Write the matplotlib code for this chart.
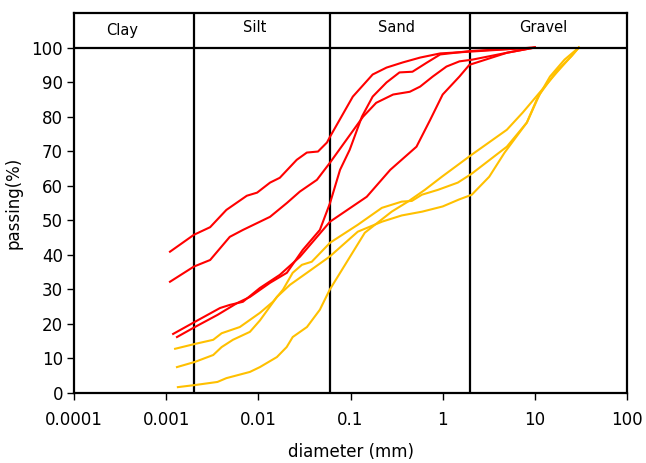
import matplotlib
matplotlib.use("Agg")
import matplotlib.pyplot as plt

# ---- data (diameter in mm, percent passing) ----
r1_d = [0.0011, 0.002, 0.003, 0.0045, 0.0075, 0.0097, 0.0134, 0.0171, 0.0261, 0.0336, 0.0444, 0.0555, 0.06,
        0.106, 0.174, 0.246, 0.37, 0.57, 0.94, 1.95, 5.0, 10.0]
r1_p = [40.9, 45.8, 48.0, 53.0, 57.1, 58.0, 60.9, 62.3, 67.5, 69.6, 69.9, 72.5, 74.2,
        85.8, 92.2, 94.2, 95.7, 97.1, 98.3, 98.8, 99.5, 100.0]

r2_d = [0.0011, 0.002, 0.003, 0.0049, 0.0068, 0.0134, 0.0204, 0.0282, 0.0432, 0.06,
        0.137, 0.19, 0.29, 0.44, 0.57, 0.78, 1.1, 1.52, 2.1, 5.0, 10.0]
r2_p = [32.2, 36.6, 38.5, 45.2, 47.2, 51.0, 55.0, 58.3, 61.7, 66.7,
        80.0, 84.0, 86.4, 87.2, 88.7, 91.6, 94.5, 96.0, 96.5, 98.5, 100.0]

r3_d = [0.00131, 0.00205, 0.0036, 0.00586, 0.0081, 0.0134, 0.0204, 0.0303, 0.0465, 0.06,
        0.077, 0.098, 0.133, 0.174, 0.246, 0.34, 0.47, 0.67, 0.94, 2.0, 10.0]
r3_p = [16.2, 19.1, 22.6, 26.0, 27.8, 31.9, 34.8, 41.4, 47.2, 55.0,
        64.6, 70.4, 80.0, 85.8, 89.9, 92.8, 93.0, 95.6, 98.0, 99.0, 100.0]

r4_d = [0.00119, 0.00205, 0.00384, 0.0049, 0.0068, 0.0104, 0.0171, 0.0282, 0.06,
        0.15, 0.27, 0.52, 0.73, 1.0, 1.52, 1.95, 5.0, 10.0]
r4_p = [17.1, 20.6, 24.6, 25.5, 26.4, 30.4, 34.2, 39.4, 49.6,
        56.8, 64.6, 71.3, 79.0, 86.4, 91.6, 95.0, 98.5, 100.0]

y1_d = [0.00125, 0.00205, 0.00324, 0.004, 0.0063, 0.0104, 0.0144, 0.0185, 0.0236, 0.0297, 0.038, 0.06,
        0.12, 0.219, 0.36, 0.463, 0.595, 0.887, 1.46, 2.07, 4.97, 8.2, 11.3, 17.0, 25.0, 30.0]
y1_p = [12.8, 14.2, 15.4, 17.3, 19.1, 23.2, 26.4, 29.9, 34.8, 37.1, 38.0, 43.5,
        48.7, 53.6, 55.4, 55.6, 57.4, 58.8, 60.9, 63.5, 71.3, 78.3, 86.5, 93.0, 97.5, 100.0]

y2_d = [0.00131, 0.00205, 0.00324, 0.004, 0.0053, 0.0081, 0.0104, 0.0159, 0.022, 0.0337, 0.0595,
        0.12, 0.22, 0.36, 0.6, 1.0, 1.5, 2.07, 3.2, 4.7, 8.2, 10.5, 14.6, 21.0, 30.0]
y2_p = [7.5, 9.0, 11.0, 13.3, 15.4, 17.7, 21.0, 27.8, 31.3, 34.8, 39.5,
        46.7, 49.6, 51.4, 52.5, 54.0, 56.0, 57.4, 62.6, 69.6, 78.3, 85.0, 91.6, 96.5, 100.0]

y3_d = [0.00134, 0.00205, 0.0036, 0.0045, 0.0081, 0.0104, 0.0159, 0.0203, 0.0236, 0.0337, 0.0465, 0.0595,
        0.143, 0.28, 0.42, 0.64, 0.98, 2.07, 4.97, 7.4, 11.3, 17.3, 25.8, 30.0]
y3_p = [1.7, 2.3, 3.2, 4.3, 6.1, 7.5, 10.4, 13.3, 16.2, 19.1, 24.1, 29.9,
        46.4, 52.5, 55.4, 58.8, 62.6, 69.0, 76.2, 81.2, 87.0, 92.8, 98.0, 100.0]

red_series = [(r1_d, r1_p), (r2_d, r2_p), (r3_d, r3_p), (r4_d, r4_p)]
yellow_series = [(y1_d, y1_p), (y2_d, y2_p), (y3_d, y3_p)]

boundaries = [0.002, 0.06, 2.0]
zone_names = ["Clay", "Silt", "Sand", "Gravel"]
zone_x = [0.00033, 0.0092, 0.318, 12.2]
zone_y = [105.0, 105.8, 105.8, 105.8]

x_ticks = [0.0001, 0.001, 0.01, 0.1, 1, 10, 100]
x_tick_labels = ["0.0001", "0.001", "0.01", "0.1", "1", "10", "100"]
y_ticks = [0, 10, 20, 30, 40, 50, 60, 70, 80, 90, 100]

# ---- figure ----
plt.rcParams['font.family'] = ['DejaVu Sans']
fig = plt.figure(figsize=(6.46, 4.63), dpi=100)
ax = fig.add_axes([74/646, 1-393/463, (627-74)/646, (393-13)/463])

RED = '#FF0000'
YEL = '#FFC000'
for d, p in red_series:
    ax.plot(d, p, color=RED, lw=1.5, zorder=3)
for d, p in yellow_series:
    ax.plot(d, p, color=YEL, lw=1.5, zorder=3)

ax.axhline(100, color='black', lw=1.6, zorder=4)
for b in boundaries:
    ax.axvline(b, color='black', lw=1.6, zorder=2)

for name, zx, zy in zip(zone_names, zone_x, zone_y):
    ax.text(zx, zy, name, ha='center', va='center', fontsize=10.5)

ax.set_xscale('log')
ax.set_xlim(0.0001, 100)
ax.set_ylim(0, 110)
ax.set_xticks(x_ticks)
ax.set_xticklabels(x_tick_labels)
ax.xaxis.set_minor_locator(matplotlib.ticker.NullLocator())
ax.set_yticks(y_ticks)
ax.tick_params(axis='both', direction='out', length=5, width=1, labelsize=12)
ax.tick_params(axis='x', pad=8)
ax.tick_params(axis='y', pad=3)

for s in ax.spines.values():
    s.set_linewidth(1.6)

ax.set_xlabel("diameter (mm)", fontsize=12, labelpad=10)
ax.set_ylabel("passing(%)", fontsize=12, labelpad=6)

fig.savefig("out.png", dpi=100)
